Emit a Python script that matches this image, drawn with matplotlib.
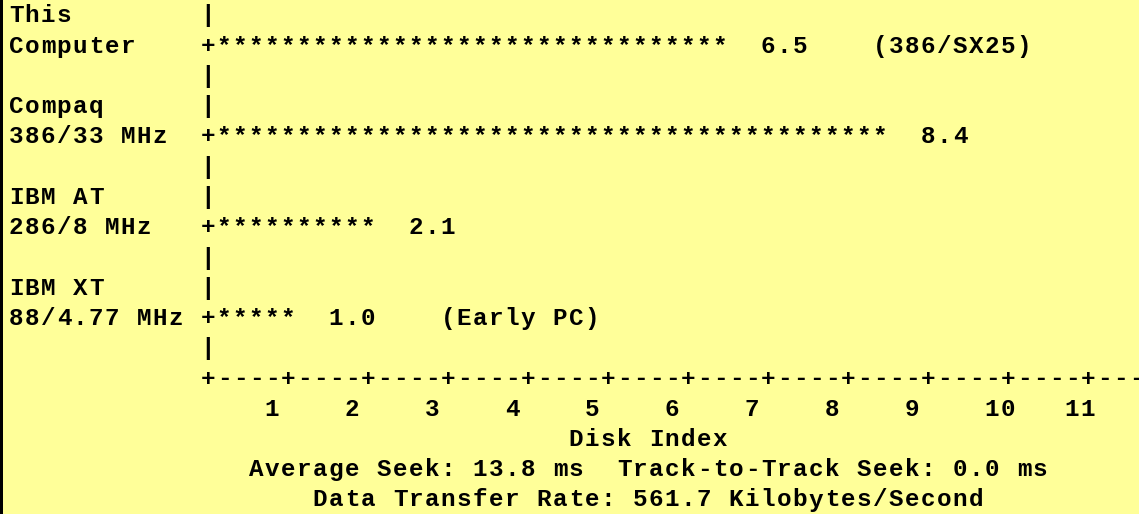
import matplotlib
matplotlib.use("Agg")
import matplotlib.pyplot as plt
from matplotlib.patches import Rectangle

# machines compared, two text rows each
labelTop = ["This", "Compaq", "IBM AT", "IBM XT"]
labelBottom = ["Computer", "386/33 MHz", "286/8 MHz", "88/4.77 MHz"]
diskIndex = [6.5, 8.4, 2.1, 1.0]
notes = ["(386/SX25)", "", "", "(Early PC)"]
tickValues = list(range(1, 12))
xLabel = "Disk Index"
footer = [
    "Average Seek: 13.8 ms  Track-to-Track Seek: 0.0 ms",
    "Data Transfer Rate: 561.7 Kilobytes/Second",
]

W, H = 1139, 514
PITCH = 16.0      # px per column
ROWH = 30.25      # px per text row
LEFT = 12         # column of the axis
PER_UNIT = 5      # columns per index unit
NCOLS = 71

bg = "#ffff99"


def buildScreen():
    lines = []
    for top, bottom, v, note in zip(labelTop, labelBottom, diskIndex, notes):
        lines.append(top.ljust(LEFT) + "|")
        bar = "*" * int(round(v * PER_UNIT))
        row = bottom.ljust(LEFT) + "+" + bar + "  " + "%.1f" % v
        if note:
            row += "    " + note
        lines.append(row)
        lines.append(" " * LEFT + "|")
    axis = ("+" + "-" * (PER_UNIT - 1)) * 20
    lines.append(" " * LEFT + axis[:NCOLS - LEFT])
    ticks = [" "] * NCOLS
    for n in tickValues:
        s = str(n)
        start = LEFT + PER_UNIT * n - 1
        for k, ch in enumerate(s):
            ticks[start + k] = ch
    lines.append("".join(ticks))
    for s in [xLabel] + footer:
        lines.append(" " * int(40 - len(s) / 2) + s)
    return lines


fig = plt.figure(figsize=(W / 100, H / 100), dpi=100)
fig.patch.set_facecolor(bg)
ax = fig.add_axes([0, 0, 1, 1])
ax.set_facecolor(bg)
ax.set_xlim(-1, (W - 16) / PITCH)
ax.set_ylim((H - 16) / ROWH, -16 / ROWH)
ax.axis("off")

screen = buildScreen()
base = 6.5 / ROWH
for r, line in enumerate(screen):
    for c, ch in enumerate(line):
        if ch == " ":
            continue
        ax.text(c, r + base, ch, ha="center", va="baseline",
                fontsize=17.5, family="Liberation Mono", weight="bold",
                color="black", clip_on=True)

fig.patches.append(Rectangle((0, 0), 3 / W, 1, transform=fig.transFigure,
                             facecolor="black", edgecolor="none"))

fig.savefig("out.png", dpi=100, facecolor=bg)
